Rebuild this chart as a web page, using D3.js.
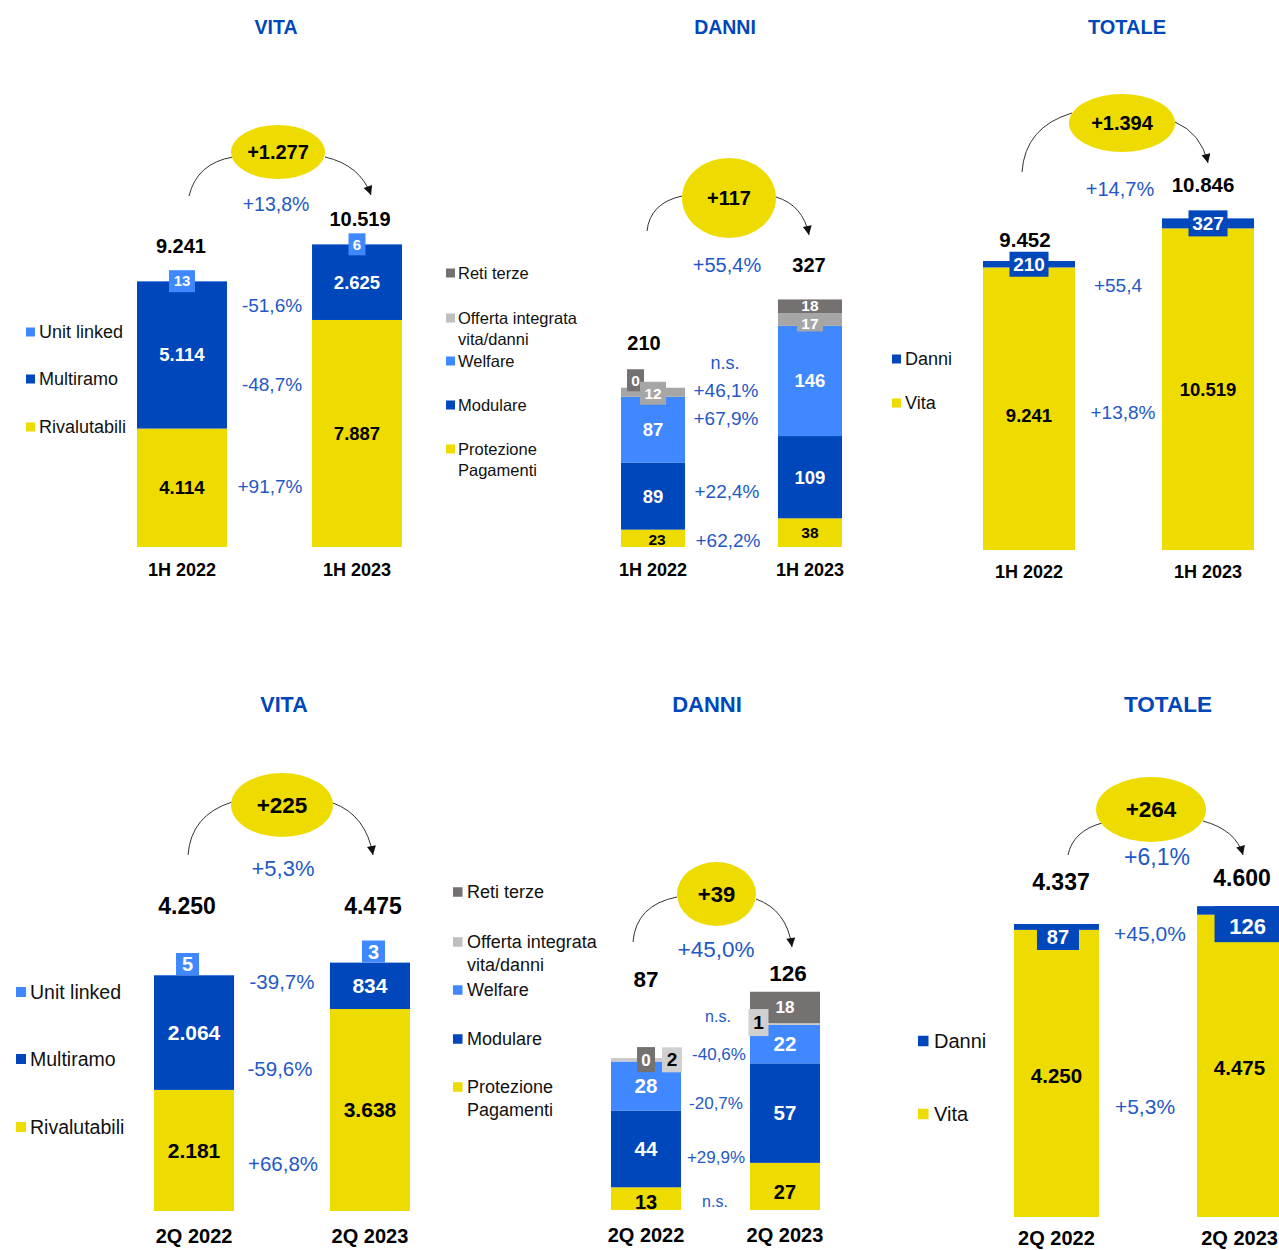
<!DOCTYPE html>
<html><head><meta charset="utf-8">
<script src="https://cdn.jsdelivr.net/npm/d3@7"></script>
<style>
html,body{margin:0;padding:0;background:#fff;}
svg{display:block;font-family:"Liberation Sans",Arial,Helvetica,sans-serif;}
</style></head><body>
<svg id="chart" width="1279" height="1250"></svg>
<script>
// ================= DATA =================
const periods1H = ["1H 2022", "1H 2023"];
const periods2Q = ["2Q 2022", "2Q 2023"];

const vitaKeys = ["Rivalutabili", "Multiramo", "Unit linked"];
const danniKeys = ["Protezione Pagamenti", "Modulare", "Welfare", "Offerta integrata vita/danni", "Reti terze"];
const totaleKeys = ["Vita", "Danni"];

// VITA 1H
const vita1H_rivalutabili = [4114, 7887];
const vita1H_multiramo = [5114, 2625];
const vita1H_unitLinked = [13, 6];
const vita1H_totals = [9241, 10519];
const vita1H_delta = "+1.277";
const vita1H_changes = ["+13,8%", "-51,6%", "-48,7%", "+91,7%"];

// DANNI 1H
const danni1H_protezione = [23, 38];
const danni1H_modulare = [89, 109];
const danni1H_welfare = [87, 146];
const danni1H_offerta = [12, 17];
const danni1H_retiTerze = [0, 18];
const danni1H_totals = [210, 327];
const danni1H_delta = "+117";
const danni1H_changes = ["+55,4%", "n.s.", "+46,1%", "+67,9%", "+22,4%", "+62,2%"];

// TOTALE 1H
const totale1H_vita = [9241, 10519];
const totale1H_danni = [210, 327];
const totale1H_totals = [9452, 10846];
const totale1H_delta = "+1.394";
const totale1H_changes = ["+14,7%", "+55,4", "+13,8%"];

// VITA 2Q
const vita2Q_rivalutabili = [2181, 3638];
const vita2Q_multiramo = [2064, 834];
const vita2Q_unitLinked = [5, 3];
const vita2Q_totals = [4250, 4475];
const vita2Q_delta = "+225";
const vita2Q_changes = ["+5,3%", "-39,7%", "-59,6%", "+66,8%"];

// DANNI 2Q
const danni2Q_protezione = [13, 27];
const danni2Q_modulare = [44, 57];
const danni2Q_welfare = [28, 22];
const danni2Q_offerta = [2, 1];
const danni2Q_retiTerze = [0, 18];
const danni2Q_totals = [87, 126];
const danni2Q_delta = "+39";
const danni2Q_changes = ["+45,0%", "n.s.", "-40,6%", "-20,7%", "+29,9%", "n.s."];

// TOTALE 2Q
const totale2Q_vita = [4250, 4475];
const totale2Q_danni = [87, 126];
const totale2Q_totals = [4337, 4600];
const totale2Q_delta = "+264";
const totale2Q_changes = ["+6,1%", "+45,0%", "+5,3%"];

const legendLines = {
  "Offerta integrata vita/danni": ["Offerta integrata", "vita/danni"],
  "Protezione Pagamenti": ["Protezione", "Pagamenti"]
};

// ================= STYLE / LAYOUT =================
const C = {
  yellow: "#EEDC00", blue: "#0047BB", light: "#4088FF",
  dgray: "#767171", mgray: "#A6A6A6", lgray: "#C8C8C8", boxGray: "#D0D0D0",
  legGray: "#BFBFBF", pct: "#2458C6", title: "#0047BB"
};

const fmt = d3.formatLocale({decimal: ",", thousands: ".", grouping: [3], currency: ["", "€"]}).format(",d");

const svg = d3.select("#chart");
svg.append("rect").attr("width", 1279).attr("height", 1250).attr("fill", "#fff");

function txt(g, x, y, s, size, opt = {}) {
  return g.append("text").attr("x", x).attr("y", y).attr("dy", "0.35em")
    .attr("text-anchor", opt.anchor || "middle")
    .attr("font-size", size).attr("font-weight", opt.bold ? "bold" : "normal")
    .attr("fill", opt.fill || "#000").text(s);
}

function drawPanel(p) {
  const g = svg.append("g");
  const x = d3.scaleBand().domain(p.periods).range(p.xRange).paddingInner(p.pad).paddingOuter(0);
  const y = d3.scaleLinear().domain([0, p.yRef[0]]).range([p.yBottom, p.yRef[1]]);
  const rows = p.periods.map((per, i) => {
    const r = {period: per};
    p.keys.forEach(k => r[k] = p.values[k][i]);
    return r;
  });
  const series = d3.stack().keys(p.keys)(rows);

  // title
  txt(g, p.titleAt[0], p.titleAt[1], p.title, p.titleSize, {bold: true, fill: C.title});

  // bars
  g.append("g").selectAll("g").data(series).join("g")
    .attr("fill", s => p.colors[s.key])
    .selectAll("rect").data(s => s).join("rect")
    .attr("x", d => x(d.data.period))
    .attr("width", x.bandwidth())
    .attr("y", d => y(d[1]))
    .attr("height", d => Math.max(0, y(d[0]) - y(d[1])));

  // segment labels (top series first so lower boxes sit on top)
  series.slice().reverse().forEach(s => {
    s.forEach((d, i) => {
      const spec = (p.seg[s.key] || [])[i];
      if (!spec) return;
      const cx = x(d.data.period) + x.bandwidth() / 2 + (spec.dx || 0);
      let cy = (y(d[0]) + y(d[1])) / 2 + (spec.dy || 0);
      if (spec.box) {
        let by;
        if (spec.anchor === "above") by = y(d[1]) - spec.h + (spec.dy || 0);
        else if (spec.anchor === "top") by = y(d[1]) + (spec.dy || 0);
        else by = cy - spec.h / 2;
        g.append("rect").attr("x", cx - spec.w / 2).attr("y", by)
          .attr("width", spec.w).attr("height", spec.h).attr("fill", spec.box);
        cy = by + spec.h / 2 + (spec.tdy || 0);
      }
      txt(g, cx, cy, fmt(d.data[s.key]), spec.size, {bold: true, fill: spec.fill || "#000"});
    });
  });

  // totals above bars
  p.periods.forEach((per, i) => {
    const top = y(d3.sum(p.keys, k => p.values[k][i]));
    txt(g, x(per) + x.bandwidth() / 2 + p.totalOff[i][0], top + p.totalOff[i][1],
      fmt(p.totals[i]), p.totalSize, {bold: true});
  });

  // category labels
  p.periods.forEach(per => {
    txt(g, x(per) + x.bandwidth() / 2, p.catY, per, p.catSize, {bold: true});
  });

  // change labels
  p.changes.forEach((c, i) => {
    const pos = p.changePos[i];
    txt(g, pos[0], pos[1], c, pos[2], {fill: C.pct});
  });

  // arcs
  const arc = (a) => {
    const path = d3.path();
    path.moveTo(a[0], a[1]);
    path.quadraticCurveTo(a[2], a[3], a[4], a[5]);
    return path.toString();
  };
  g.append("path").attr("d", arc(p.arcL)).attr("fill", "none").attr("stroke", "#333").attr("stroke-width", 1);
  g.append("path").attr("d", arc(p.arcR)).attr("fill", "none").attr("stroke", "#333").attr("stroke-width", 1);
  // arrowhead
  const a = p.arcR;
  const tx = a[4] - a[2], ty = a[5] - a[3];
  const L = Math.hypot(tx, ty), ux = tx / L, uy = ty / L;
  const len = 9, wid = 4.5;
  const bx = a[4] - ux * len, by = a[5] - uy * len;
  g.append("path")
    .attr("d", `M${a[4]},${a[5]}L${bx - uy * wid},${by + ux * wid}L${bx + uy * wid},${by - ux * wid}Z`)
    .attr("fill", "#111");

  // bubble
  g.append("ellipse").attr("cx", p.bubble.cx).attr("cy", p.bubble.cy)
    .attr("rx", p.bubble.rx).attr("ry", p.bubble.ry).attr("fill", C.yellow);
  txt(g, p.bubble.cx, p.bubble.cy, p.delta, p.bubble.size, {bold: true});

  // legend
  const lg = p.legend;
  lg.items.forEach(([key, ly]) => {
    const lines = legendLines[key] || [key];
    g.append("rect").attr("x", lg.sqX).attr("y", ly - lg.sq / 2).attr("width", lg.sq).attr("height", lg.sq)
      .attr("fill", p.legendColors[key]);
    lines.forEach((ln, j) => txt(g, lg.textX, ly + j * lg.lineH, ln, lg.size, {anchor: "start", fill: "#111"}));
  });
}

const panels = [
  { // VITA 1H
    title: "VITA", titleAt: [276, 27], titleSize: 19.5,
    periods: periods1H, keys: vitaKeys,
    values: {"Rivalutabili": vita1H_rivalutabili, "Multiramo": vita1H_multiramo, "Unit linked": vita1H_unitLinked},
    colors: {"Rivalutabili": C.yellow, "Multiramo": C.blue, "Unit linked": C.light},
    legendColors: {"Rivalutabili": C.yellow, "Multiramo": C.blue, "Unit linked": C.light},
    xRange: [137, 402], pad: 0.486, yBottom: 547, yRef: [9241, 281],
    seg: {
      "Rivalutabili": [{size: 18.5}, {size: 18.5}],
      "Multiramo": [{size: 18.5, fill: "#fff"}, {size: 18.5, fill: "#fff"}],
      "Unit linked": [{size: 15, fill: "#fff", box: C.light, w: 26, h: 22},
                      {size: 15, fill: "#fff", box: C.light, w: 17, h: 22}]
    },
    totals: vita1H_totals, totalSize: 20, totalOff: [[-1, -35], [3, -25]],
    catY: 570, catSize: 18,
    changes: vita1H_changes, changePos: [[276, 204, 19.5], [272, 305, 19], [272, 384, 19], [270, 486, 19]],
    delta: vita1H_delta, bubble: {cx: 278, cy: 152, rx: 47, ry: 27, size: 20},
    arcL: [189, 196, 197, 163, 233, 157], arcR: [325, 157, 360, 165, 371, 195],
    legend: {sqX: 26, sq: 9, textX: 39, size: 18, lineH: 21,
      items: [["Unit linked", 332], ["Multiramo", 379], ["Rivalutabili", 427]]}
  },
  { // DANNI 1H
    title: "DANNI", titleAt: [725, 27], titleSize: 19.5,
    periods: periods1H, keys: danniKeys,
    values: {"Protezione Pagamenti": danni1H_protezione, "Modulare": danni1H_modulare, "Welfare": danni1H_welfare,
             "Offerta integrata vita/danni": danni1H_offerta, "Reti terze": danni1H_retiTerze},
    colors: {"Protezione Pagamenti": C.yellow, "Modulare": C.blue, "Welfare": C.light,
             "Offerta integrata vita/danni": C.mgray, "Reti terze": C.dgray},
    legendColors: {"Protezione Pagamenti": C.yellow, "Modulare": C.blue, "Welfare": C.light,
             "Offerta integrata vita/danni": C.legGray, "Reti terze": C.dgray},
    xRange: [621, 842], pad: 0.592, yBottom: 547, yRef: [210, 388.5],
    seg: {
      "Protezione Pagamenti": [{size: 15.5, dx: 4, dy: 1}, {size: 15.5}],
      "Modulare": [{size: 18.5, fill: "#fff"}, {size: 18.5, fill: "#fff"}],
      "Welfare": [{size: 18.5, fill: "#fff"}, {size: 18.5, fill: "#fff"}],
      "Offerta integrata vita/danni": [{size: 15.5, fill: "#fff", box: C.mgray, w: 26, h: 23, dy: 1},
                                       {size: 15.5, fill: "#fff", box: C.mgray, w: 26, h: 16, dy: 4}],
      "Reti terze": [{size: 15.5, fill: "#fff", box: C.dgray, w: 17, h: 22, dx: -17.5, dy: -7.5},
                     {size: 15.5, fill: "#fff", dy: -1}]
    },
    totals: danni1H_totals, totalSize: 20, totalOff: [[-9, -45], [-1, -34]],
    catY: 570, catSize: 18,
    changes: danni1H_changes,
    changePos: [[727, 265, 20], [725, 363, 18], [726, 390, 19], [726, 418, 19], [727, 491, 19], [728, 540, 19]],
    delta: danni1H_delta, bubble: {cx: 729, cy: 198, rx: 47, ry: 40, size: 20},
    arcL: [647, 231, 650, 203, 682, 196], arcR: [776, 197, 803, 205, 809, 235],
    legend: {sqX: 446, sq: 9, textX: 458, size: 16.5, lineH: 21,
      items: [["Reti terze", 273], ["Offerta integrata vita/danni", 318], ["Welfare", 361],
              ["Modulare", 405], ["Protezione Pagamenti", 449]]}
  },
  { // TOTALE 1H
    title: "TOTALE", titleAt: [1127, 27], titleSize: 20,
    periods: periods1H, keys: totaleKeys,
    values: {"Vita": totale1H_vita, "Danni": totale1H_danni},
    colors: {"Vita": C.yellow, "Danni": C.blue},
    legendColors: {"Vita": C.yellow, "Danni": C.blue},
    xRange: [983, 1254], pad: 0.486, yBottom: 550, yRef: [9452, 261],
    seg: {
      "Vita": [{size: 18.5, dy: 7}, {size: 18.5}],
      "Danni": [{size: 19, fill: "#fff", box: C.blue, w: 39, h: 25}, {size: 19, fill: "#fff", box: C.blue, w: 39, h: 26}]
    },
    totals: totale1H_totals, totalSize: 20.5, totalOff: [[-4, -21], [-5, -34]],
    catY: 572, catSize: 18,
    changes: totale1H_changes, changePos: [[1120, 189, 20], [1118, 285, 19], [1123, 412, 19]],
    delta: totale1H_delta, bubble: {cx: 1122, cy: 123, rx: 53, ry: 29, size: 20},
    arcL: [1022, 172, 1025, 127, 1072, 113], arcR: [1175, 122, 1201, 133, 1208, 163],
    legend: {sqX: 892, sq: 9, textX: 905, size: 18, lineH: 21,
      items: [["Danni", 359], ["Vita", 403]]}
  },
  { // VITA 2Q
    title: "VITA", titleAt: [284, 704], titleSize: 21.5,
    periods: periods2Q, keys: vitaKeys,
    values: {"Rivalutabili": vita2Q_rivalutabili, "Multiramo": vita2Q_multiramo, "Unit linked": vita2Q_unitLinked},
    colors: {"Rivalutabili": C.yellow, "Multiramo": C.blue, "Unit linked": C.light},
    legendColors: {"Rivalutabili": C.yellow, "Multiramo": C.blue, "Unit linked": C.light},
    xRange: [154, 410], pad: 0.545, yBottom: 1211, yRef: [4250, 975],
    seg: {
      "Rivalutabili": [{size: 21}, {size: 21}],
      "Multiramo": [{size: 21, fill: "#fff"}, {size: 21, fill: "#fff"}],
      "Unit linked": [{size: 20, fill: "#fff", box: C.light, w: 23, h: 22, anchor: "above", dx: -6.5},
                      {size: 20, fill: "#fff", box: C.light, w: 23, h: 22, anchor: "above", dx: 3.5}]
    },
    totals: vita2Q_totals, totalSize: 23, totalOff: [[-7, -69], [3, -56.5]],
    catY: 1236, catSize: 20,
    changes: vita2Q_changes, changePos: [[283, 868, 22], [282, 982, 20.5], [280, 1069, 20.5], [283, 1164, 20.5]],
    delta: vita2Q_delta, bubble: {cx: 282, cy: 805, rx: 51, ry: 32, size: 22.5},
    arcL: [188, 855, 191, 815, 232, 802], arcR: [333, 803, 366, 815, 373, 855],
    legend: {sqX: 16, sq: 10, textX: 30, size: 19.5, lineH: 23,
      items: [["Unit linked", 992], ["Multiramo", 1059], ["Rivalutabili", 1127]]}
  },
  { // DANNI 2Q
    title: "DANNI", titleAt: [707, 704], titleSize: 22,
    periods: periods2Q, keys: danniKeys,
    values: {"Protezione Pagamenti": danni2Q_protezione, "Modulare": danni2Q_modulare, "Welfare": danni2Q_welfare,
             "Offerta integrata vita/danni": danni2Q_offerta, "Reti terze": danni2Q_retiTerze},
    colors: {"Protezione Pagamenti": C.yellow, "Modulare": C.blue, "Welfare": C.light,
             "Offerta integrata vita/danni": C.lgray, "Reti terze": C.dgray},
    legendColors: {"Protezione Pagamenti": C.yellow, "Modulare": C.blue, "Welfare": C.light,
             "Offerta integrata vita/danni": C.legGray, "Reti terze": C.dgray},
    xRange: [611, 820], pad: 0.496, yBottom: 1210, yRef: [126, 990],
    seg: {
      "Protezione Pagamenti": [{size: 20, dy: 3}, {size: 20, dy: 6}],
      "Modulare": [{size: 20.5, fill: "#fff"}, {size: 20.5, fill: "#fff"}],
      "Welfare": [{size: 20.5, fill: "#fff"}, {size: 20.5, fill: "#fff"}],
      "Offerta integrata vita/danni": [{size: 19, fill: "#000", box: C.boxGray, w: 20, h: 25, dx: 26},
                                       {size: 19, fill: "#000", box: C.boxGray, w: 20, h: 27, dx: -26.5, dy: -1.5}],
      "Reti terze": [{size: 17, fill: "#fff", box: C.dgray, w: 18, h: 25, dy: 1.5},
                     {size: 17, fill: "#fff"}]
    },
    totals: danni2Q_totals, totalSize: 22.5, totalOff: [[0, -79], [3, -19]],
    catY: 1235, catSize: 20,
    changes: danni2Q_changes,
    changePos: [[716, 949, 22.5], [718, 1016, 16], [719, 1054, 17], [716, 1103, 17], [716, 1157, 17], [715, 1201, 16]],
    delta: danni2Q_delta, bubble: {cx: 716.5, cy: 894, rx: 39.5, ry: 32, size: 22},
    arcL: [633, 942, 636, 905, 677, 897], arcR: [756, 899, 787, 910, 792, 947],
    legend: {sqX: 453, sq: 9.5, textX: 467, size: 18, lineH: 23,
      items: [["Reti terze", 892], ["Offerta integrata vita/danni", 942], ["Welfare", 990],
              ["Modulare", 1039], ["Protezione Pagamenti", 1087]]}
  },
  { // TOTALE 2Q
    title: "TOTALE", titleAt: [1168, 704], titleSize: 22.5,
    periods: periods2Q, keys: totaleKeys,
    values: {"Vita": totale2Q_vita, "Danni": totale2Q_danni},
    colors: {"Vita": C.yellow, "Danni": C.blue},
    legendColors: {"Vita": C.yellow, "Danni": C.blue},
    xRange: [1014, 1282], pad: 0.536, yBottom: 1217, yRef: [4337, 924],
    seg: {
      "Vita": [{size: 20.5, dy: 2}, {size: 20.5, dy: 2}],
      "Danni": [{size: 20, fill: "#fff", box: C.blue, w: 42, h: 26, anchor: "top", dx: 1.5},
                {size: 22, fill: "#fff", box: C.blue, w: 66, h: 36, anchor: "top", dx: 8, tdy: 2}]
    },
    totals: totale2Q_totals, totalSize: 23, totalOff: [[4.5, -42], [2.5, -28]],
    catY: 1238, catSize: 20,
    changes: totale2Q_changes, changePos: [[1157, 857, 23], [1150, 934, 21], [1145, 1107, 21]],
    delta: totale2Q_delta, bubble: {cx: 1151, cy: 809.5, rx: 55, ry: 32.5, size: 22.5},
    arcL: [1068, 855, 1073, 831, 1102, 823], arcR: [1203, 821, 1236, 830, 1243, 855],
    legend: {sqX: 918, sq: 10.5, textX: 934, size: 20, lineH: 23,
      items: [["Danni", 1041], ["Vita", 1114]]}
  }
];

panels.forEach(drawPanel);
</script>
</body></html>
